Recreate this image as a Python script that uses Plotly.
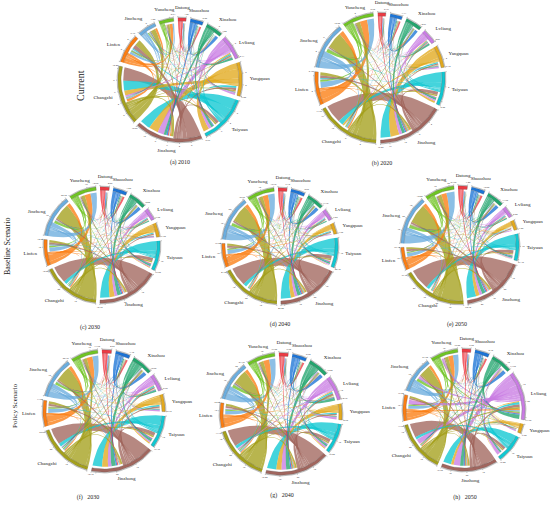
import numpy as np
import plotly.graph_objects as go

# ---------------- data ----------------
cities = ["Datong", "Shuozhou", "Xinzhou", "Lvliang", "Yangquan", "Taiyuan",
          "Jinzhong", "Changzhi", "Linfen", "Jincheng", "Yuncheng"]

# rows = from, cols = to (same order as cities)
flows_current_2010 = [
    [0, .35, .08, .03, .05, .10, .20, .05, .03, .03, .03],
    [.15, 0, .60, .08, .05, .15, .30, .05, .03, .03, .03],
    [.03, .15, 0, .45, .10, .40, .50, .08, .03, .03, .03],
    [.03, .03, .10, 0, .40, .60, 1.20, .30, .10, .05, .05],
    [.03, .03, .05, .20, 0, 1.10, 1.80, .90, .10, .05, .05],
    [.05, .05, .10, .30, .40, 0, 2.00, 1.90, .20, .10, .10],
    [.05, .05, .10, .20, .40, .60, 0, 2.60, .80, .20, .15],
    [.03, .05, .10, .10, .20, .30, .50, 0, 1.20, .90, .40],
    [.03, .03, .03, .05, .05, .10, .20, .50, 0, .40, .60],
    [.03, .03, .03, .03, .03, .05, .10, .20, .50, 0, .30],
    [.08, .05, .05, .03, .03, .05, .10, .10, .20, .20, 0],
]
flows_current_2020 = [
    [0, .50, .15, .05, .05, .10, .30, .08, .05, .05, .05],
    [.20, 0, .90, .10, .05, .20, .40, .08, .05, .05, .05],
    [.05, .25, 0, .50, .15, .50, .90, .10, .05, .05, .05],
    [.05, .05, .15, 0, .50, .40, .90, .20, .05, .05, .05],
    [.05, .05, .05, .20, 0, .60, 2.60, .50, .10, .05, .05],
    [.05, .05, .10, .30, .40, 0, 3.00, 1.40, .20, .10, .10],
    [.10, .10, .15, .25, .40, 1.00, 0, 5.50, .80, .40, .30],
    [.05, .05, .25, .10, .15, .40, .60, 0, 1.00, 4.80, 1.20],
    [.05, .05, .05, .05, .05, .10, .25, .40, 0, 1.30, 2.20],
    [.05, .05, .05, .05, .05, .10, .30, .50, 1.80, 0, 2.00],
    [.15, .10, .10, .05, .05, .10, .20, .30, .50, 1.00, 0],
]
flows_baseline_2030 = [
    [0, 1.2, .3, .1, .1, .3, .6, .2, .1, .1, .1],
    [.6, 0, 2.0, .2, .1, .4, .8, .2, .1, .1, .1],
    [.1, .6, 0, .6, .2, 1.0, 2.2, .3, .1, .1, .1],
    [.1, .1, .2, 0, .6, .6, 1.6, .3, .1, .1, .1],
    [.1, .1, .1, .2, 0, .5, 3.0, .3, .1, .1, .1],
    [.1, .1, .2, .6, .6, 0, 5.5, 1.8, .3, .2, .2],
    [.2, .2, .3, .6, .8, 2.0, 0, 10.0, 1.2, .8, .6],
    [.1, .1, .6, .1, .2, .8, 1.0, 0, 1.5, 9.5, 2.0],
    [.1, .1, .1, .1, .1, .2, .4, .6, 0, 2.0, 3.5],
    [.1, .1, .1, .1, .1, .2, .5, .8, 2.5, 0, 3.5],
    [.3, .2, .2, .1, .1, .2, .4, .5, .8, 1.5, 0],
]
flows_baseline_2040 = [
    [0, 1.5, .4, .1, .1, .4, .8, .2, .1, .1, .2],
    [.7, 0, 2.6, .3, .1, .5, 1.0, .3, .1, .1, .1],
    [.1, .8, 0, .8, .2, 1.2, 2.6, .4, .1, .1, .1],
    [.1, .1, .3, 0, .6, .8, 2.0, .4, .1, .1, .1],
    [.1, .1, .1, .2, 0, .5, 3.0, .3, .1, .1, .1],
    [.1, .2, .3, .7, .6, 0, 7.5, 2.4, .3, .3, .2],
    [.3, .3, .4, .7, .8, 2.6, 0, 14.0, 1.4, 1.2, .8],
    [.1, .2, .7, .2, .2, 1.0, 1.3, 0, 1.6, 13.0, 2.6],
    [.1, .1, .1, .1, .1, .2, .5, .7, 0, 2.6, 4.0],
    [.2, .2, .2, .1, .1, .3, .7, 1.0, 3.0, 0, 5.0],
    [.4, .3, .2, .1, .1, .2, .5, .6, .9, 2.2, 0],
]
flows_baseline_2050 = [
    [0, 1.8, .5, .2, .1, .4, 1.0, .3, .1, .2, .2],
    [.8, 0, 3.0, .3, .1, .6, 1.2, .3, .1, .1, .1],
    [.2, .9, 0, 1.0, .2, 1.2, 3.0, .4, .1, .2, .1],
    [.1, .1, .4, 0, .7, .8, 2.4, .5, .1, .1, .1],
    [.1, .1, .1, .2, 0, .5, 3.2, .3, .1, .1, .1],
    [.1, .2, .3, .7, .6, 0, 8.0, 2.6, .3, .3, .2],
    [.3, .3, .5, .8, .9, 2.8, 0, 18.0, 1.6, 1.6, 1.0],
    [.2, .2, .8, .2, .2, 1.0, 1.6, 0, 1.8, 17.0, 3.4],
    [.1, .1, .1, .1, .1, .2, .6, .8, 0, 3.0, 4.6],
    [.2, .2, .2, .1, .1, .3, .9, 1.2, 3.2, 0, 7.0],
    [.5, .3, .3, .1, .1, .2, .6, .7, 1.0, 3.0, 0],
]
flows_policy_2030 = [
    [0, 1.1, .3, .2, .1, .3, .6, .2, .1, .1, .1],
    [.5, 0, 2.0, .3, .1, .4, .8, .2, .1, .1, .1],
    [.1, .6, 0, 1.0, .3, 1.2, 2.4, .3, .1, .1, .1],
    [.1, .1, .3, 0, 1.0, .8, 1.8, .4, .1, .1, .1],
    [.1, .1, .1, .3, 0, .7, 3.2, .3, .1, .1, .1],
    [.1, .1, .2, .7, .7, 0, 5.2, 1.8, .3, .2, .2],
    [.2, .2, .4, .8, .9, 2.0, 0, 9.0, 1.1, .8, .6],
    [.1, .1, .6, .2, .2, .8, 1.0, 0, 1.4, 8.5, 1.8],
    [.1, .1, .1, .1, .1, .2, .4, .6, 0, 1.8, 3.2],
    [.1, .1, .1, .1, .1, .2, .5, .8, 2.3, 0, 3.2],
    [.3, .2, .2, .1, .1, .2, .4, .5, .7, 1.4, 0],
]
flows_policy_2040 = [
    [0, 1.3, .4, .2, .1, .3, .7, .2, .1, .1, .2],
    [.6, 0, 2.4, .5, .1, .4, .9, .2, .1, .1, .1],
    [.1, .7, 0, 1.8, .3, 1.1, 2.6, .3, .1, .1, .1],
    [.2, .2, .5, 0, 1.6, 1.2, 3.0, .8, .4, .2, .2],
    [.1, .1, .1, .5, 0, .6, 3.4, .3, .1, .1, .1],
    [.1, .1, .2, 1.0, .7, 0, 6.0, 2.0, .3, .2, .2],
    [.2, .3, .4, 1.2, .9, 2.2, 0, 11.0, 1.2, .9, .7],
    [.1, .1, .6, .4, .2, .8, 1.2, 0, 1.5, 9.5, 2.4],
    [.1, .1, .1, .3, .1, .2, .5, .6, 0, 2.0, 3.8],
    [.1, .1, .1, .2, .1, .2, .6, .9, 2.4, 0, 4.0],
    [.3, .2, .2, .3, .1, .2, .5, .6, .8, 1.8, 0],
]
flows_policy_2050 = [
    [0, 1.3, .4, .4, .1, .3, .7, .2, .1, .1, .2],
    [.6, 0, 2.6, .8, .1, .4, .9, .2, .1, .1, .1],
    [.1, .7, 0, 3.0, .2, 1.0, 2.4, .3, .1, .1, .1],
    [.3, .4, 1.0, 0, 1.0, 2.4, 4.6, 3.4, 3.0, 1.6, 1.4],
    [.1, .1, .1, .6, 0, .4, 1.8, .2, .1, .1, .1],
    [.1, .1, .2, 1.6, .4, 0, 5.6, 1.8, .3, .2, .2],
    [.2, .3, .4, 2.0, .4, 2.0, 0, 10.0, 1.0, .8, .7],
    [.1, .1, .5, 1.2, .1, .8, 1.1, 0, 1.3, 8.0, 2.4],
    [.1, .1, .1, 1.0, .1, .2, .5, .6, 0, 1.8, 3.4],
    [.1, .1, .1, .9, .1, .2, .6, .8, 2.2, 0, 3.8],
    [.3, .2, .2, 1.0, .1, .2, .5, .5, .8, 1.8, 0],
]

captions = ["(a) 2010", "(b) 2020", "(c) 2030", "(d) 2040", "(e) 2050",
            "(f)   2030", "(g)   2040", "(h)   2050"]
row_titles = ["Current", "Baseline Scenario", "Policy Scenario"]
tick_steps = [2, 4, 10, 10, 10, 10, 10, 10]

all_flows = [flows_current_2010, flows_current_2020, flows_baseline_2030,
             flows_baseline_2040, flows_baseline_2050, flows_policy_2030,
             flows_policy_2040, flows_policy_2050]

# ---------------- styles / layout ----------------
city_colors = ["#ee3a43", "#1c74d6", "#23a56e", "#c97ce3", "#e2a91e", "#10c8d2",
               "#a1665e", "#a4a01c", "#fb7d12", "#6badde", "#6fc423"]
# centre x, centre y, inner radius, caption position
panel_geom = [
    (180, 80, 59, 180, 162),
    (380, 78, 62, 382, 163),
    (102, 245, 55, 90, 327),
    (280, 246, 55, 280, 324),
    (460, 245, 56, 457, 324),
    (104, 411, 58, 88, 497),
    (281, 414, 58, 282, 495),
    (464, 410, 58, 465, 497),
]
row_title_geom = [(80, 86, 10), (7, 246, 8), (15, 406, 7)]
GAP = 4.0
START = -2.0
BAND = 3.2
NAME_OFF = 7.5
SERIF = "Liberation Serif"


def rgba(h, a):
    h = h.lstrip("#")
    return "rgba(%d,%d,%d,%.2f)" % (int(h[0:2], 16), int(h[2:4], 16), int(h[4:6], 16), a)


def polar(cx, cy, R, deg):
    t = np.radians(deg)
    return cx + R * np.sin(t), cy - R * np.cos(t)


def arc(cx, cy, R, a0, a1):
    k = max(2, int(abs(a1 - a0) / 2.5) + 2)
    th = np.linspace(a0, a1, k)
    return polar(cx, cy, R, th)


def bezier(p0, c, p2, k=20):
    t = np.linspace(0, 1, k)
    x = (1 - t) ** 2 * p0[0] + 2 * (1 - t) * t * c[0] + t ** 2 * p2[0]
    y = (1 - t) ** 2 * p0[1] + 2 * (1 - t) * t * c[1] + t ** 2 * p2[1]
    return x, y


fig = go.Figure()

for p, flows in enumerate(all_flows):
    cx, cy, r, capx, capy = panel_geom[p]
    M = np.array(flows, dtype=float)
    n = len(cities)
    out_s = M.sum(axis=1)
    in_s = M.sum(axis=0)
    tot = out_s + in_s
    dpu = (360.0 - n * GAP) / tot.sum()
    starts = []
    a = START
    for i in range(n):
        starts.append(a)
        a += tot[i] * dpu + GAP
    # link slots: outgoing first, then incoming, each ordered clockwise from the next sector
    src = {}
    dst = {}
    for i in range(n):
        pos = starts[i]
        order = sorted([j for j in range(n) if j != i], key=lambda j: (j - i) % n)
        for j in order:
            w = M[i, j] * dpu
            src[(i, j)] = (pos, pos + w)
            pos += w
        for j in order:
            w = M[j, i] * dpu
            dst[(j, i)] = (pos, pos + w)
            pos += w
    links = [(M[i, j], i, j) for i in range(n) for j in range(n) if i != j and M[i, j] > 0]
    links.sort(key=lambda t: -t[0])
    rs = r
    rd = r - 2.2
    for v, i, j in links:
        s1, s2 = src[(i, j)]
        d1, d2 = dst[(i, j)]
        xa, ya = arc(cx, cy, rs, s1, s2)
        xb, yb = bezier(polar(cx, cy, rs, s2), (cx, cy), polar(cx, cy, rd, d1))
        xc, yc = arc(cx, cy, rd, d1, d2)
        xd, yd = bezier(polar(cx, cy, rd, d2), (cx, cy), polar(cx, cy, rs, s1))
        xs = np.round(np.concatenate([xa, xb, xc, xd]), 2)
        ys = np.round(np.concatenate([ya, yb, yc, yd]), 2)
        fig.add_trace(go.Scatter(x=xs, y=ys, mode="lines", fill="toself",
                                 fillcolor=rgba(city_colors[i], 0.78),
                                 line=dict(width=0, color=rgba(city_colors[i], 0.0)),
                                 hoverinfo="skip", showlegend=False))
    # sector bands
    ax_x, ax_y = [], []
    tk_x, tk_y, tk_t = [], [], []
    nm_x, nm_y, nm_t, nm_pos = [], [], [], []
    step = tick_steps[p]
    for i in range(n):
        a0 = starts[i]
        a1 = a0 + tot[i] * dpu
        xo, yo = arc(cx, cy, r + BAND, a0, a1)
        xi, yi = arc(cx, cy, r, a1, a0)
        fig.add_trace(go.Scatter(x=np.round(np.concatenate([xo, xi]), 2),
                                 y=np.round(np.concatenate([yo, yi]), 2),
                                 mode="lines", fill="toself", fillcolor=city_colors[i],
                                 line=dict(width=0.3, color="#555555"),
                                 hoverinfo="skip", showlegend=False))
        # axis
        xx, yy = arc(cx, cy, r + BAND + 0.7, a0, a1)
        ax_x += list(np.round(xx, 2)) + [None]
        ax_y += list(np.round(yy, 2)) + [None]
        vals = list(np.arange(0, tot[i], step))
        for v in vals:
            ang = a0 + v * dpu
            x1, y1 = polar(cx, cy, r + BAND + 0.7, ang)
            x2, y2 = polar(cx, cy, r + BAND + 1.8, ang)
            ax_x += [x1, x2, None]
            ax_y += [y1, y2, None]
            if v > 0 and (tot[i] - v) > step * 0.35:
                lx, ly = polar(cx, cy, r + BAND + 4.0, ang)
                tk_x.append(lx); tk_y.append(ly); tk_t.append("%g" % v)
        x1, y1 = polar(cx, cy, r + BAND + 0.7, a1)
        x2, y2 = polar(cx, cy, r + BAND + 1.8, a1)
        ax_x += [x1, x2, None]
        ax_y += [y1, y2, None]
        lx, ly = polar(cx, cy, r + BAND + 4.0, a1)
        tk_x.append(lx); tk_y.append(ly); tk_t.append("%.2f" % tot[i])
        # name
        mid = (a0 + a1) / 2
        sx, cyy = np.sin(np.radians(mid)), np.cos(np.radians(mid))
        vert = "top" if cyy > 0.55 else ("bottom" if cyy < -0.55 else "middle")
        hor = "right" if sx > 0.5 else ("left" if sx < -0.5 else "center")
        nx, ny = polar(cx, cy, r + BAND + NAME_OFF, mid)
        nm_x.append(nx); nm_y.append(ny); nm_t.append(cities[i]); nm_pos.append(vert + " " + hor)
    fig.add_trace(go.Scatter(x=ax_x, y=ax_y, mode="lines",
                             line=dict(width=0.4, color="#666666"),
                             hoverinfo="skip", showlegend=False))
    fig.add_trace(go.Scatter(x=tk_x, y=tk_y, mode="text", text=tk_t,
                             textfont=dict(size=2.6, color="#333333", family=SERIF),
                             hoverinfo="skip", showlegend=False))
    fig.add_trace(go.Scatter(x=nm_x, y=nm_y, mode="text", text=nm_t, textposition=nm_pos,
                             textfont=dict(size=5, color="#222222", family=SERIF),
                             hoverinfo="skip", showlegend=False))
    fig.add_trace(go.Scatter(x=[capx], y=[capy], mode="text", text=[captions[p]],
                             textposition="middle center",
                             textfont=dict(size=6, color="#222222", family=SERIF),
                             hoverinfo="skip", showlegend=False))

for k, title in enumerate(row_titles):
    tx, ty, ts = row_title_geom[k]
    fig.add_annotation(x=tx, y=ty, text=title, showarrow=False, textangle=-90,
                       font=dict(size=ts, color="#222222", family=SERIF),
                       xref="x", yref="y")

fig.update_layout(
    width=550, height=505,
    margin=dict(l=0, r=0, t=0, b=0),
    paper_bgcolor="white", plot_bgcolor="white",
    showlegend=False, hovermode=False,
    xaxis=dict(range=[0, 550], visible=False, fixedrange=True),
    yaxis=dict(range=[505, 0], visible=False, fixedrange=True),
)

fig.write_html("out.html", config={"displayModeBar": False},
               post_script="document.body.style.margin='0';document.body.style.overflow='hidden';")
